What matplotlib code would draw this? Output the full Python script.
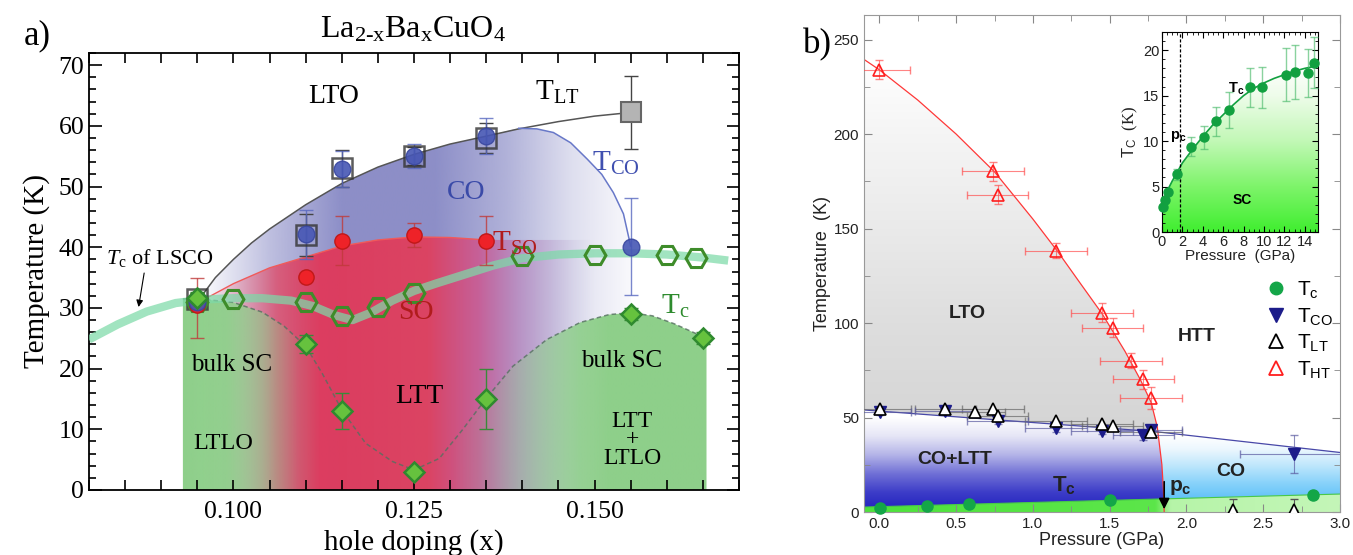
import numpy as np
import matplotlib
matplotlib.use("Agg")
import matplotlib.pyplot as plt
import matplotlib.ticker as mticker
from matplotlib.patches import Polygon
from matplotlib.lines import Line2D
from matplotlib.colors import to_rgb

SERIF = "Liberation Serif"
SANS = "Liberation Sans"
plt.rcParams["font.family"] = SERIF
plt.rcParams["mathtext.fontset"] = "custom"
plt.rcParams["mathtext.rm"] = SERIF
plt.rcParams["mathtext.it"] = SERIF + ":italic"
plt.rcParams["mathtext.sf"] = SANS
plt.rcParams["mathtext.bf"] = SANS + ":bold"

# ---------------- panel a data (La2-xBaxCuO4) ----------------
x_co = [0.095, 0.110, 0.115, 0.125, 0.135, 0.155]
t_co = [31.0, 42.1, 52.9, 55.0, 58.3, 40.1]
t_co_err = [1.0, 4.0, 3.0, 2.0, 3.0, 8.0]

x_lt = [0.095, 0.110, 0.115, 0.125, 0.135, 0.155]
t_lt = [31.5, 42.0, 53.0, 55.0, 58.0, 62.2]
t_lt_err = [1.0, 3.5, 3.0, 1.5, 2.5, 6.0]

x_so = [0.095, 0.110, 0.115, 0.125, 0.135]
t_so = [30.5, 35.1, 41.1, 42.0, 41.1]
t_so_lo = [5.5, 0.0, 4.0, 2.0, 4.0]
t_so_hi = [4.5, 0.0, 4.0, 2.0, 4.0]

x_bulk = [0.095, 0.110, 0.115, 0.125, 0.135, 0.155, 0.165]
tc_bulk = [31.7, 24.0, 13.0, 3.0, 15.0, 29.0, 25.0]
tc_bulk_err = [1.0, 1.5, 3.0, 0.5, 5.0, 1.0, 1.0]

x_onset = [0.095, 0.100, 0.110, 0.115, 0.120, 0.125, 0.140, 0.150, 0.160, 0.164]
tc_onset = [31.0, 31.4, 31.0, 28.6, 30.1, 32.4, 38.5, 38.8, 38.8, 38.2]

# guide curves
x_lt_fit = [0.095, 0.0975, 0.100, 0.1025, 0.105, 0.110, 0.115, 0.120, 0.125, 0.130, 0.135, 0.1395,
            0.145, 0.150, 0.155]
t_lt_fit = [31.0, 35.0, 38.0, 40.7, 43.0, 47.0, 50.5, 53.2, 55.3, 57.0, 58.3, 59.5, 60.7, 61.6, 62.2]
x_co_fit = [0.1395, 0.142, 0.1443, 0.1467, 0.149, 0.151, 0.1526, 0.154, 0.155]
t_co_fit = [59.6, 59.5, 58.9, 57.2, 54.5, 52.0, 49.0, 45.5, 40.2]
x_so_fit = [0.095, 0.100, 0.105, 0.110, 0.115, 0.120, 0.125, 0.130, 0.135]
t_so_fit = [30.8, 34.0, 36.6, 38.4, 40.2, 41.2, 41.7, 41.6, 41.2]
x_bulk_fit = [0.093, 0.096, 0.100, 0.104, 0.107, 0.110, 0.1123, 0.115, 0.1183, 0.122, 0.125, 0.1285,
              0.1317, 0.135, 0.1387, 0.1434, 0.148, 0.152, 0.155, 0.158, 0.161, 0.1655]
t_bulk_fit = [31.5, 31.4, 30.9, 29.3, 27.0, 23.7, 19.2, 13.2, 7.7, 4.7, 3.3, 5.2,
              9.9, 15.1, 20.4, 24.8, 27.6, 28.9, 29.2, 28.7, 27.4, 25.0]
x_lsco = [0.080, 0.084, 0.088, 0.092, 0.096, 0.100, 0.104, 0.108, 0.111, 0.114, 0.1165, 0.119,
          0.122, 0.125, 0.128, 0.132, 0.136, 0.140, 0.145, 0.150, 0.155, 0.160, 0.165, 0.1685]
t_lsco = [24.8, 27.3, 29.4, 30.8, 31.4, 31.6, 31.6, 31.2, 30.3, 28.8, 28.0, 29.2,
          31.2, 32.8, 34.0, 35.5, 37.0, 38.2, 38.8, 39.0, 39.0, 38.8, 38.3, 37.8]

# ---------------- panel b data (pressure) ----------------
p_ht = [0.0, 0.74, 0.77, 1.15, 1.45, 1.52, 1.64, 1.72, 1.77]
t_ht = [234.0, 180.2, 167.8, 138.2, 105.5, 97.5, 80.1, 70.2, 60.3]
t_ht_err = [5, 5, 5, 4, 5, 5, 4, 5, 6]

p_lt = [0.005, 0.43, 0.62, 0.74, 0.77, 1.15, 1.45, 1.52, 1.77, 2.30, 2.70]
t_lt_b = [54.6, 54.6, 52.7, 54.6, 50.9, 48.2, 46.5, 45.6, 42.4, 1.0, 1.0]
t_lt_b_hi = [1.5, 1.5, 1.5, 1.5, 1.5, 1.5, 1.5, 1.5, 1.5, 6.0, 6.0]

p_cob = [0.005, 0.43, 0.77, 1.15, 1.45, 1.72, 1.77, 2.70]
t_cob = [53.0, 53.5, 48.2, 44.7, 42.9, 40.8, 43.3, 30.8]
t_cob_err = [1.5, 1.5, 1.5, 2.5, 1.5, 2.5, 1.5, 10.0]
p_cob_err = [0.2, 0.2, 0.2, 0.2, 0.2, 0.2, 0.2, 0.35]

p_tc = [0.005, 0.31, 0.583, 1.50, 2.824]
t_tc = [2.1, 3.4, 4.4, 6.2, 8.9]

p_ht_fit = [-0.1, 0.0, 0.25, 0.5, 0.75, 1.0, 1.16, 1.3, 1.45, 1.6, 1.7, 1.77, 1.81, 1.84, 1.85, 1.855]
t_ht_fit = [239.5, 234, 218, 200, 180, 155, 138, 122, 105, 85, 70, 58, 45, 25, 12, 0]
p_co_fit = [-0.1, 1.8, 3.0]
t_co_fit_b = [54.0, 42.5, 31.5]
p_tc_fit = [-0.1, 3.0]
t_tc_fit = [2.6, 9.5]
p_c = 1.855

# inset: Tc vs pressure up to 15 GPa
p_in = [0.14, 0.28, 0.6, 1.48, 2.89, 4.13, 5.25, 6.56, 8.6, 9.8, 12.2, 13.0, 14.3, 14.95]
tc_in = [2.74, 3.55, 4.39, 6.36, 9.4, 10.4, 12.2, 13.4, 15.9, 15.9, 17.3, 17.6, 17.5, 18.6]
tc_in_err = [0.2, 0.2, 0.2, 0.6, 1.0, 1.3, 1.6, 2.0, 2.1, 2.3, 2.9, 3.0, 2.6, 2.8]
p_in_fit = [0.0, 0.5, 1.0, 1.5, 2.0, 3.0, 4.0, 5.0, 6.0, 7.0, 8.0, 9.0, 10.0, 11.0, 12.0, 13.0, 14.0, 15.3]
tc_in_fit = [3.0, 4.5, 5.6, 6.6, 7.6, 9.1, 10.5, 11.8, 12.9, 14.0, 15.0, 15.8, 16.4, 16.9, 17.3, 17.7, 18.0, 18.3]
p_c_in = 1.75


def gradient_region(ax, verts, pos, colors, alphas, extent, vertical=False, z=1):
    x0, x1, y0, y1 = extent
    n = 400
    t = np.linspace(y0, y1, n) if vertical else np.linspace(x0, x1, n)
    rgb = np.array([to_rgb(c) for c in colors])
    img = np.ones((n, 4))
    for k in range(3):
        img[:, k] = np.interp(t, pos, rgb[:, k])
    img[:, 3] = np.interp(t, pos, alphas)
    img = img[:, None, :] if vertical else img[None, :, :]
    im = ax.imshow(img, extent=extent, origin="lower", aspect="auto",
                   interpolation="bilinear", zorder=z)
    poly = Polygon(verts, closed=True, fc="none", ec="none")
    ax.add_patch(poly)
    im.set_clip_path(poly)
    return im


fig = plt.figure(figsize=(13.53, 5.55), dpi=100)
W, H = 1353, 555
axA = fig.add_axes([89 / W, (H - 490) / H, 650 / W, 437 / H])
axB = fig.add_axes([864 / W, (H - 512) / H, 476 / W, 497 / H])
axIn = fig.add_axes([1162 / W, (H - 232) / H, 156 / W, 200 / H])

# ================= panel a =================
ax = axA
ext = [0.08, 0.17, 0, 72]
blue_verts = [(x, t) for x, t in zip(x_lt_fit, t_lt_fit) if x < x_co_fit[0]]
blue_verts += list(zip(x_co_fit, t_co_fit)) + [(x_co_fit[-1], 0), (x_lt_fit[0], 0)]
gradient_region(ax, blue_verts,
                [0.095, 0.105, 0.115, 0.128, 0.138, 0.147, 0.155],
                ["#7d7fc0"] * 7, [0.0, 0.5, 0.88, 0.88, 0.6, 0.25, 0.05], ext, z=1)
red_verts = list(zip(x_so_fit, t_so_fit))
red_verts += [(x_so_fit[-1] + 0.015, t_so_fit[-1]), (x_so_fit[-1] + 0.015, 0), (x_so_fit[0], 0)]
gradient_region(ax, red_verts,
                [0.095, 0.100, 0.106, 0.112, 0.127, 0.134, 0.140, 0.146, 0.150],
                ["#e8a0b4", "#e46a86", "#e0405e", "#e0385a", "#e0405e", "#d0508a",
                 "#b870b0", "#a888c0", "#a8a0d0"],
                [0.0, 0.35, 0.75, 0.95, 0.95, 0.8, 0.5, 0.2, 0.0], ext, z=1.1)
green_verts = list(zip(x_bulk_fit, t_bulk_fit)) + [(x_bulk_fit[-1], 0), (x_bulk_fit[0], 0)]
gradient_region(ax, green_verts,
                [0.093, 0.099, 0.104, 0.109, 0.112, 0.130, 0.136, 0.142, 0.148, 0.152, 0.166],
                ["#8ecf8a"] * 11,
                [1.0, 0.95, 0.6, 0.1, 0.0, 0.0, 0.2, 0.55, 0.9, 1.0, 1.0], ext, z=1.2)

ax.plot(x_lt_fit, t_lt_fit, color="#555555", lw=1.1, zorder=3)
ax.plot(x_co_fit, t_co_fit, color="#6878c8", lw=1.1, zorder=3)
ax.plot(x_so_fit, t_so_fit, color="#f05a5a", lw=1.0, zorder=3)
ax.plot(x_bulk_fit, t_bulk_fit, color="#557060", lw=1.1, ls=(0, (3, 2)), alpha=0.8, zorder=3)
ax.plot(x_lsco, t_lsco, color="#7ddaa8", lw=6, alpha=0.72, solid_capstyle="butt", zorder=3.2)

ax.errorbar(x_lt, t_lt, yerr=t_lt_err, fmt="none", ecolor="#444444", elinewidth=1.0, capsize=5, zorder=4)
ax.errorbar(x_co, t_co, yerr=t_co_err, fmt="none", ecolor="#5868c0", elinewidth=1.0, capsize=5, alpha=0.8, zorder=4)
ax.errorbar(x_so, t_so, yerr=[t_so_lo, t_so_hi], fmt="none", ecolor="#c03a3a", elinewidth=1.0, capsize=5, alpha=0.8, zorder=4)
ax.errorbar(x_bulk, tc_bulk, yerr=tc_bulk_err, fmt="none", ecolor="#3a8a3a", elinewidth=1.0, capsize=5, zorder=4)

ax.plot(x_lt[:-1], t_lt[:-1], "s", ms=15, mfc="none", mec="#333333", mew=1.8, alpha=0.8, zorder=5)
ax.plot(x_lt[-1:], t_lt[-1:], "s", ms=15, mfc="#b4b4b4", mec="#666666", mew=1.5, zorder=5)
ax.plot(x_co, t_co, "o", ms=12, mfc="#4656b4", mec="#3a48a0", mew=1, alpha=0.9, zorder=5.2)
ax.plot(x_so, t_so, "o", ms=11, mfc="#ee2228", mec="#c01818", mew=1, zorder=5.1)
ax.plot(x_onset, tc_onset, "H", ms=15, mfc="none", mec="#3e8c2a", mew=2.2, zorder=5)
ax.plot(x_bulk, tc_bulk, "D", ms=10, mfc="#66c23e", mec="#2f8a2f", mew=1.8, zorder=5.3)

ax.set_xlim(0.08, 0.17)
ax.set_ylim(0, 72)
ax.set_xticks([0.100, 0.125, 0.150])
ax.set_xticklabels(["0.100", "0.125", "0.150"])
ax.xaxis.set_minor_locator(mticker.MultipleLocator(0.005))
ax.yaxis.set_major_locator(mticker.MultipleLocator(10))
ax.yaxis.set_minor_locator(mticker.MultipleLocator(2))
ax.tick_params(which="both", direction="in", top=True, right=True, labelsize=18.5, width=1.2)
ax.tick_params(axis="x", which="both", length=7, pad=8)
ax.tick_params(axis="y", which="major", length=9)
ax.tick_params(axis="y", which="minor", length=5)
for sp in ax.spines.values():
    sp.set_linewidth(1.3)
ax.set_xlabel("hole doping (x)", fontsize=21, labelpad=4)
ax.set_ylabel("Temperature (K)", fontsize=21, labelpad=6)
fig.text(413 / W, 1 - 30 / H, r"$\mathrm{La_{2{\text{-}}x}Ba_{x}CuO_{4}}$", fontsize=23,
         ha="center", va="center")

tk = dict(zorder=6, ha="center", va="center")
ax.text(0.1139, 64.9, "LTO", fontsize=20, **tk)
ax.text(0.1448, 65.5, r"$\mathrm{T_{LT}}$", fontsize=21, **tk)
ax.text(0.1530, 53.8, r"$\mathrm{T_{CO}}$", fontsize=21, color="#4050b0", **tk)
ax.text(0.1322, 49.0, "CO", fontsize=20, color="#3a4aa8", **tk)
ax.text(0.1390, 40.6, r"$\mathrm{T_{SO}}$", fontsize=21, color="#b01c1c", **tk)
ax.text(0.1253, 29.2, "SO", fontsize=20, color="#b01c1c", **tk)
ax.text(0.1257, 15.4, "LTT", fontsize=20, **tk)
ax.text(0.0998, 20.6, "bulk SC", fontsize=18, **tk)
ax.text(0.0986, 7.7, "LTLO", fontsize=17.5, **tk)
ax.text(0.1538, 21.2, "bulk SC", fontsize=18, **tk)
ax.text(0.1552, 8.3, "LTT\n+\nLTLO", fontsize=17, linespacing=0.85, **tk)
ax.text(0.1612, 30.3, r"$\mathrm{T_{c}}$", fontsize=21, color="#2e8b2e", **tk)
ax.text(0.0898, 38.2, r"$T_{\mathrm{c}}$ of LSCO", fontsize=16, **tk)
ax.annotate("", xy=(0.0868, 29.7), xytext=(0.0877, 36.2),
            arrowprops=dict(arrowstyle="-|>", color="black", lw=0.8, mutation_scale=10), zorder=6)
fig.text(37 / W, 1 - 36 / H, "a)", fontsize=25, ha="center", va="center", family=SERIF)

# ================= panel b =================
ax = axB
ext_b = [-0.1, 3.0, 0, 263]
pp = np.linspace(-0.1, 3.0, 3101)
diff = np.interp(pp, p_ht_fit, t_ht_fit) - np.interp(pp, p_co_fit, t_co_fit_b)
p_x = pp[np.argmax(diff < 0)]
t_x = float(np.interp(p_x, p_co_fit, t_co_fit_b))

grey_verts = list(zip(p_ht_fit, t_ht_fit)) + [(p_ht_fit[0], 0)]
gradient_region(ax, grey_verts, [0, 50, 100, 150, 200, 240],
                ["#d4d4d4", "#d6d6d6", "#dedede", "#eaeaea", "#f5f5f5", "#ffffff"],
                [1] * 6, ext_b, vertical=True, z=1)
co_ltt_verts = [(p, t) for p, t in zip(p_co_fit, t_co_fit_b) if p < p_x] + [(p_x, t_x)]
co_ltt_verts += [(p, t) for p, t in zip(p_ht_fit, t_ht_fit) if t < t_x] + [(p_co_fit[0], 0)]
gradient_region(ax, co_ltt_verts, [2, 10, 20, 30, 40, 50],
                ["#2626c0", "#3c3cc8", "#7070d6", "#b4b4e8", "#e6e6f6", "#ffffff"],
                [1] * 6, ext_b, vertical=True, z=1.1)
co_verts = [(p_x, t_x)] + [(p, t) for p, t in zip(p_co_fit, t_co_fit_b) if p > p_x]
co_verts += [(p_co_fit[-1], 0), (p_c, 0)]
co_verts += [(p, t) for p, t in zip(p_ht_fit[::-1], t_ht_fit[::-1]) if 0 < t < t_x]
gradient_region(ax, co_verts, [6, 15, 25, 33, 40],
                ["#5ec0f8", "#88d2fa", "#c2e8fc", "#ecf7fe", "#ffffff"],
                [1] * 5, ext_b, vertical=True, z=1.1)
green_b = list(zip(p_tc_fit, t_tc_fit)) + [(p_tc_fit[-1], 0), (p_tc_fit[0], 0)]
gradient_region(ax, green_b, [-0.1, 1.8, 1.9, 3.0],
                ["#4ee23c", "#5ce64a", "#b6f4a8", "#c4f6b8"], [1] * 4, ext_b, z=1.2)

ax.plot(p_ht_fit, t_ht_fit, color="#ff3838", lw=0.9, zorder=2)
ax.plot(p_co_fit, t_co_fit_b, color="#4848a8", lw=0.9, zorder=2)
ax.plot(p_tc_fit, t_tc_fit, color="#48c848", lw=0.8, zorder=2)

ax.errorbar(p_ht, t_ht, xerr=0.2, yerr=t_ht_err, fmt="none", ecolor="#ff5050", elinewidth=0.8,
            capsize=3, alpha=0.7, zorder=3)
ax.errorbar(p_lt[:9], t_lt_b[:9], xerr=0.2, fmt="none", ecolor="#666666", elinewidth=0.8,
            capsize=3, alpha=0.7, zorder=3)
ax.errorbar(p_lt[9:], t_lt_b[9:], yerr=[[0, 0], t_lt_b_hi[9:]], fmt="none", ecolor="#555555",
            elinewidth=0.8, capsize=3, zorder=3)
ax.errorbar(p_cob, t_cob, xerr=p_cob_err, yerr=t_cob_err, fmt="none", ecolor="#5a5aa0",
            elinewidth=0.8, capsize=3, alpha=0.7, zorder=3)
ax.plot(p_cob, t_cob, "v", ms=9, mfc="#1c1c8a", mec="#1c1c8a", zorder=4)
ax.plot(p_lt, t_lt_b, "^", ms=9, mfc="white", mec="black", mew=1.2, zorder=4.1)
ax.plot(p_ht, t_ht, "^", ms=9, mfc="none", mec="#ff1e1e", mew=1.2, zorder=4)
ax.plot(p_tc, t_tc, "o", ms=8, mfc="#14a648", mec="#14a648", zorder=4, clip_on=False)
ax.annotate("", xy=(p_c, 0), xytext=(p_c, 17.5),
            arrowprops=dict(arrowstyle="-|>", color="black", lw=1.2, mutation_scale=16),
            zorder=5, annotation_clip=False)

ax.set_xlim(-0.1, 3.0)
ax.set_ylim(0, 263)
ax.xaxis.set_major_locator(mticker.MultipleLocator(0.5))
ax.xaxis.set_major_formatter(mticker.FormatStrFormatter("%.1f"))
ax.xaxis.set_minor_locator(mticker.MultipleLocator(0.25))
ax.yaxis.set_major_locator(mticker.MultipleLocator(50))
ax.yaxis.set_minor_locator(mticker.MultipleLocator(25))
ax.tick_params(which="both", direction="in", top=True, right=True, color="#888888",
               labelsize=11, labelfontfamily=SANS, labelcolor="#222222")
ax.tick_params(which="major", length=6)
ax.tick_params(which="minor", length=4)
for sp in ax.spines.values():
    sp.set_color("#999999")
ax.set_xlabel("Pressure (GPa)", fontsize=13, family=SANS, labelpad=1, color="#222222")
ax.set_ylabel("Temperature  (K)", fontsize=13, family=SANS, labelpad=2, color="#222222")

bk = dict(zorder=6, ha="center", va="center", fontsize=14, fontweight="bold", family=SANS, color="#222222")
ax.text(0.574, 105, "LTO", **bk)
ax.text(2.067, 93, "HTT", **bk)
ax.text(0.49, 27.8, "CO+LTT", **bk)
ax.text(2.29, 21.6, "CO", **bk)
ax.text(1.20, 14.0, r"$\mathbf{T_c}$", zorder=6, ha="center", va="center", fontsize=16, color="#222222")
ax.text(1.96, 13.0, r"$\mathbf{p_c}$", zorder=6, ha="center", va="center", fontsize=15, color="#222222")

handles = [Line2D([], [], ls="none", marker="o", ms=9, mfc="#14a648", mec="#14a648"),
           Line2D([], [], ls="none", marker="v", ms=10, mfc="#1c1c8a", mec="#1c1c8a"),
           Line2D([], [], ls="none", marker="^", ms=10, mfc="white", mec="black", mew=1.3),
           Line2D([], [], ls="none", marker="^", ms=10, mfc="white", mec="#ff1e1e", mew=1.3)]
labels = [r"$\mathsf{T_c}$", r"$\mathsf{T_{CO}}$", r"$\mathsf{T_{LT}}$", r"$\mathsf{T_{HT}}$"]
ax.legend(handles, labels, loc="upper left", bbox_to_anchor=(0.80, 0.505), frameon=False,
          fontsize=15, handletextpad=0.4, labelspacing=0.25, handlelength=1.2)
fig.text(817 / W, 1 - 45 / H, "b)", fontsize=25, ha="center", va="center", family=SERIF)

# ================= inset =================
ax = axIn
ext_in = [0, 15.3, 0, 22]
in_verts = list(zip(p_in_fit, tc_in_fit)) + [(p_in_fit[-1], 0), (p_in_fit[0], 0)]
gradient_region(ax, in_verts, [0, 5, 10, 15, 18.5],
                ["#40ee30", "#7ef46a", "#c2f8b6", "#eefcea", "#ffffff"], [1] * 5, ext_in,
                vertical=True, z=1)
ax.plot(p_in_fit, tc_in_fit, color="#12a040", lw=1.2, zorder=2)
ax.errorbar(p_in, tc_in, yerr=tc_in_err, fmt="none", ecolor="#4cbb6c", elinewidth=1.0,
            capsize=3, alpha=0.65, zorder=3)
ax.plot(p_in, tc_in, "o", ms=6.5, mfc="#12a040", mec="#12a040", zorder=4, clip_on=False)
ax.axvline(p_c_in, color="black", lw=0.9, ls=(0, (2.5, 1.5)), zorder=3)
ax.set_xlim(0, 15.3)
ax.set_ylim(0, 22)
ax.xaxis.set_major_locator(mticker.MultipleLocator(2))
ax.xaxis.set_minor_locator(mticker.MultipleLocator(0.5))
ax.yaxis.set_major_locator(mticker.MultipleLocator(5))
ax.yaxis.set_minor_locator(mticker.MultipleLocator(1))
ax.tick_params(which="both", direction="in", top=True, right=True, labelsize=10.5,
               labelfontfamily=SANS, pad=2, labelcolor="#222222")
ax.tick_params(which="major", length=4)
ax.tick_params(which="minor", length=2.5)
ax.set_xlabel("Pressure  (GPa)", fontsize=11, family=SANS, labelpad=0, color="#222222")
ax.set_ylabel(r"$\mathsf{T_C}$  (K)", fontsize=12, labelpad=2, color="#222222")
ax.text(1.64, 10.5, r"$\mathbf{p_c}$", fontsize=10.5, ha="center", va="center", zorder=6)
ax.text(7.3, 15.8, r"$\mathbf{T_c}$", fontsize=10.5, ha="center", va="center", zorder=6)
ax.text(7.9, 3.5, "SC", fontsize=10, fontweight="bold", family=SANS, ha="center", va="center", zorder=6)

fig.savefig("out.png", dpi=100)
